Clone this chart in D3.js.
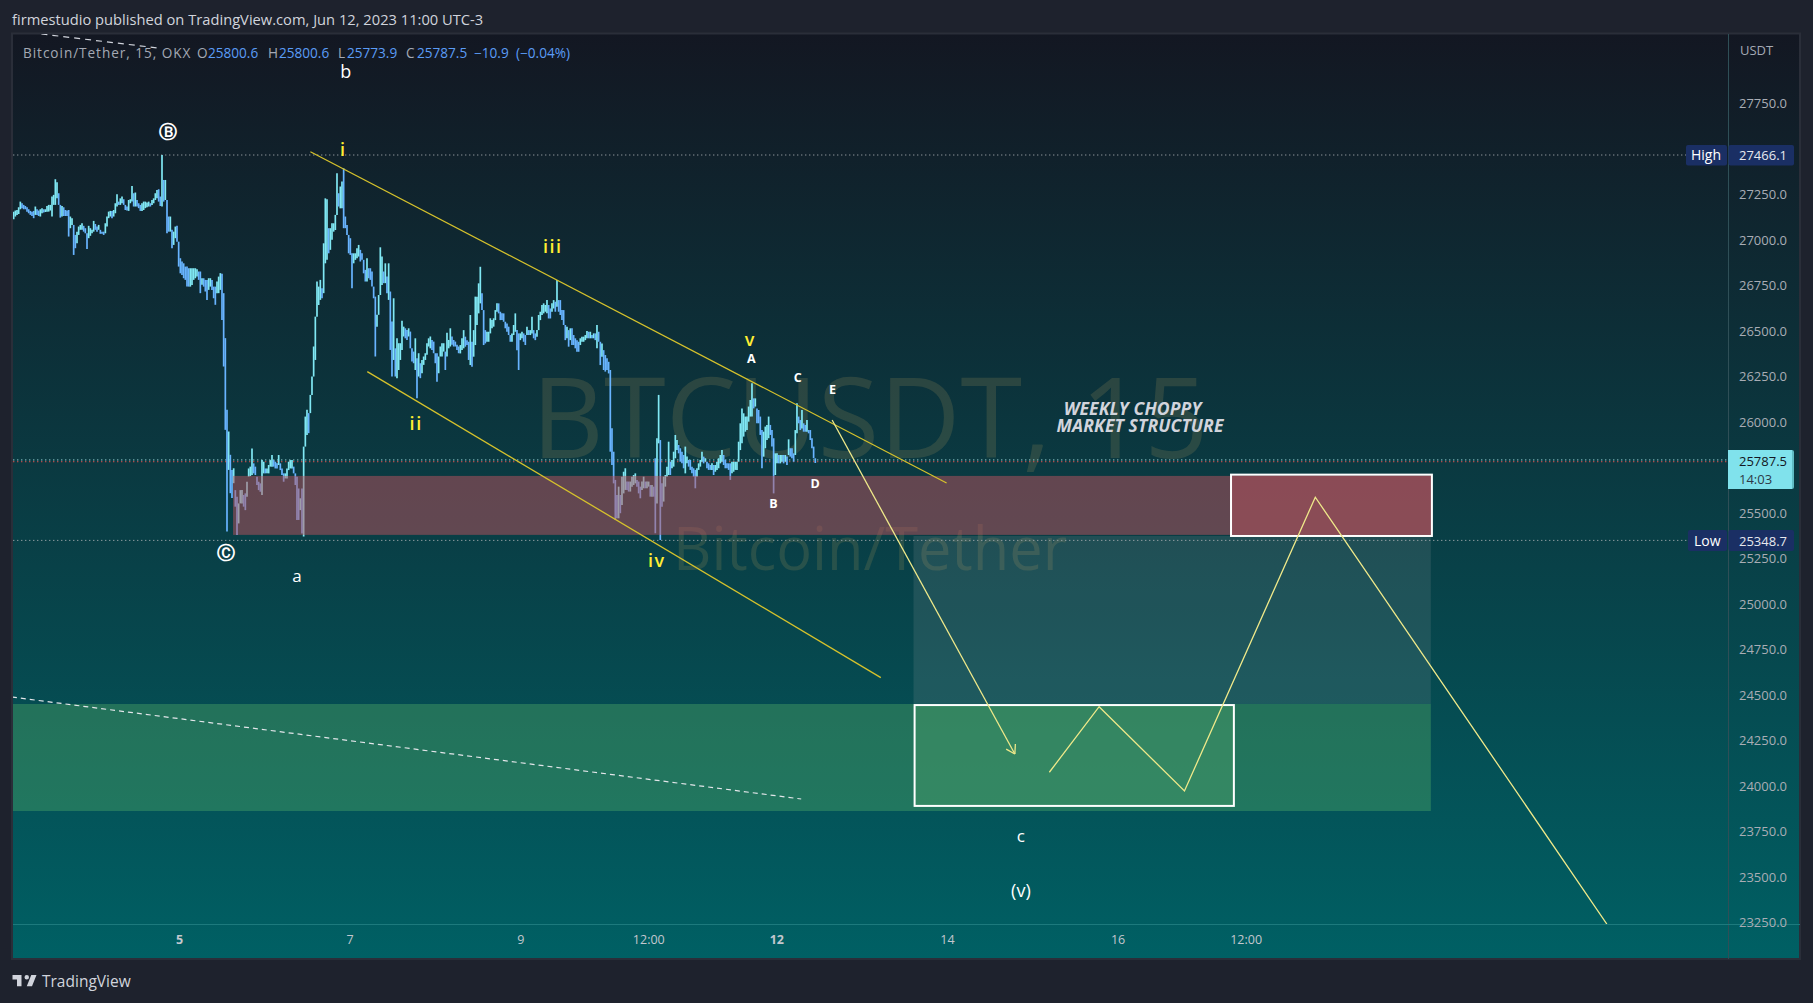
<!DOCTYPE html>
<html><head><meta charset="utf-8">
<script src="https://cdn.jsdelivr.net/npm/d3@7"></script>
<style>html,body{margin:0;padding:0;background:#1e222d;overflow:hidden}svg{display:block}text{font-family:"Open Sans",sans-serif}</style>
</head><body><svg id="c" width="1813" height="1003"></svg>
<script>
// ---- values ----
const headerText="firmestudio published on TradingView.com, Jun 12, 2023 11:00 UTC-3";
const firstBarTime=Date.UTC(2023,5,3,1,30);
const barMinutes=28.125;
// [high, low] of each sampled bar
const barHighLow=[[27155,27113],[27161,27128],[27164,27137],[27179,27142],[27210,27168],[27201,27174],[27192,27168],[27186,27168],[27179,27155],[27168,27146],
[27159,27137],[27155,27131],[27159,27119],[27183,27137],[27168,27137],[27161,27131],[27168,27128],[27174,27146],[27168,27150],[27168,27153],
[27186,27155],[27192,27155],[27192,27161],[27238,27128],[27247,27192],[27333,27192],[27316,27228],[27256,27192],[27192,27122],[27186,27128],
[27179,27131],[27164,27131],[27161,27131],[27164,27018],[27128,27064],[27119,27082],[27082,26917],[27027,26954],[27045,26981],[27073,27027],
[27082,27055],[27091,27055],[27077,27045],[27064,27036],[27036,26950],[27077,27009],[27064,27022],[27055,27036],[27104,27045],[27087,27055],
[27073,27045],[27082,27055],[27055,27033],[27045,27033],[27045,27027],[27091,27036],[27128,27073],[27155,27119],[27159,27128],[27159,27119],
[27164,27128],[27201,27146],[27250,27183],[27210,27192],[27228,27192],[27238,27201],[27223,27192],[27192,27164],[27183,27161],[27219,27159],
[27223,27201],[27296,27210],[27256,27183],[27260,27183],[27219,27183],[27201,27174],[27192,27159],[27201,27159],[27210,27164],[27210,27174],
[27205,27179],[27210,27183],[27201,27183],[27219,27192],[27228,27201],[27256,27219],[27274,27228],[27278,27210],[27238,27186],[27466,27183],
[27329,27210],[27329,27219],[27219,27036],[27128,27045],[27128,27045],[27055,26954],[27045,26972],[27073,27009],[27077,26990],[26990,26853],
[26899,26816],[26881,26807],[26871,26789],[26853,26780],[26853,26743],[26844,26743],[26844,26743],[26844,26752],[26844,26780],[26844,26789],
[26839,26798],[26826,26780],[26826,26707],[26789,26753],[26789,26743],[26780,26716],[26780,26670],[26789,26725],[26789,26743],[26780,26725],
[26743,26679],[26743,26643],[26771,26707],[26798,26707],[26817,26725],[26813,26560],[26707,26304],[26460,25956],[26066,25398],[25947,25736],
[25819,25608],[25736,25581],[25745,25663],[25625,25534],[25589,25378],[25552,25442],[25625,25552],[25625,25552],[25598,25534],[25607,25515],
[25671,25589],[25744,25699],[25754,25702],[25854,25708],[25772,25717],[25754,25708],[25699,25653],[25671,25625],[25662,25616],[25790,25598],
[25781,25717],[25744,25717],[25744,25717],[25763,25717],[25790,25754],[25818,25754],[25790,25754],[25781,25744],[25772,25744],[25818,25763],
[25772,25735],[25744,25708],[25717,25671],[25717,25689],[25744,25689],[25781,25735],[25790,25744],[25790,25744],[25754,25717],[25717,25653],
[25699,25461],[25634,25461],[25580,25515],[25634,25387],[25864,25370],[26029,25864],[26066,25928],[26048,25938],[26148,26048],[26249,26148],
[26414,26249],[26578,26340],[26771,26578],[26743,26642],[26780,26670],[26734,26679],[26981,26707],[27228,26871],[27223,26890],[27064,26926],
[27064,26945],[27091,27000],[27091,27045],[27137,27054],[27366,27137],[27256,27183],[27293,27173],[27320,27173],[27393,27064],[27128,27064],
[27082,27027],[27027,26926],[27009,26917],[26926,26734],[26926,26871],[26926,26890],[26954,26899],[26972,26908],[26945,26881],[26926,26890],
[26890,26816],[26835,26771],[26899,26771],[26844,26789],[26844,26780],[26826,26743],[26743,26679],[26688,26359],[26588,26523],[26697,26588],
[26959,26697],[26908,26752],[26826,26762],[26871,26762],[26798,26707],[26871,26670],[26716,26395],[26551,26249],[26679,26340],[26404,26249],
[26459,26240],[26432,26285],[26432,26340],[26555,26395],[26523,26469],[26514,26459],[26505,26450],[26514,26469],[26496,26404],[26404,26331],
[26386,26322],[26459,26285],[26350,26130],[26377,26249],[26322,26240],[26340,26267],[26359,26313],[26377,26340],[26432,26368],[26459,26414],
[26469,26404],[26450,26395],[26441,26377],[26377,26322],[26377,26221],[26359,26267],[26414,26359],[26432,26359],[26432,26386],[26386,26285],
[26490,26359],[26450,26404],[26514,26414],[26469,26423],[26450,26414],[26441,26414],[26423,26395],[26414,26377],[26422,26376],[26459,26395],
[26504,26404],[26468,26413],[26449,26422],[26440,26340],[26587,26312],[26440,26303],[26504,26358],[26688,26422],[26688,26532],[26761,26596],
[26852,26651],[26706,26614],[26614,26422],[26504,26431],[26495,26440],[26495,26440],[26569,26486],[26559,26514],[26569,26523],[26614,26559],
[26651,26605],[26651,26596],[26605,26559],[26596,26559],[26596,26550],[26550,26514],[26541,26495],[26523,26477],[26477,26440],[26486,26440],
[26532,26477],[26596,26495],[26504,26394],[26486,26285],[26486,26449],[26495,26459],[26486,26440],[26477,26422],[26523,26477],[26504,26477],
[26504,26477],[26578,26486],[26504,26459],[26486,26449],[26504,26468],[26587,26504],[26605,26559],[26642,26587],[26651,26596],[26642,26605],
[26669,26596],[26642,26568],[26623,26568],[26651,26605],[26669,26623],[26660,26605],[26779,26633],[26669,26605],[26669,26587],[26614,26559],
[26614,26532],[26532,26449],[26523,26459],[26504,26413],[26514,26449],[26514,26422],[26477,26422],[26459,26404],[26449,26385],[26440,26385],
[26459,26422],[26468,26440],[26468,26440],[26477,26449],[26499,26459],[26495,26459],[26495,26459],[26477,26459],[26486,26459],[26486,26449],
[26532,26404],[26495,26440],[26440,26312],[26431,26358],[26394,26285],[26367,26276],[26349,26285],[26330,26266],[26285,25836],[25965,25763],
[25836,25662],[25681,25461],[25598,25470],[25644,25470],[25598,25498],[25699,25543],[25726,25607],[25745,25626],[25672,25626],[25672,25617],
[25672,25617],[25699,25644],[25708,25653],[25717,25662],[25681,25644],[25672,25607],[25644,25580],[25672,25626],[25699,25635],[25672,25635],
[25672,25635],[25672,25644],[25653,25589],[25653,25589],[25644,25589],[25800,25388],[25910,25552],[26148,25882],[25900,25351],[25662,25534],
[25699,25562],[25708,25644],[25754,25699],[25891,25708],[25781,25708],[25791,25745],[25836,25754],[25928,25800],[25900,25845],[25873,25827],
[25855,25781],[25836,25772],[25818,25745],[25864,25717],[25809,25772],[25791,25754],[25791,25736],[25754,25717],[25745,25699],[25736,25635],
[25745,25699],[25772,25736],[25791,25754],[25836,25781],[25809,25772],[25800,25781],[25781,25745],[25772,25736],[25763,25736],[25772,25736],
[25763,25708],[25763,25726],[25781,25736],[25800,25745],[25818,25772],[25845,25781],[25818,25763],[25791,25745],[25772,25745],[25772,25736],
[25772,25681],[25781,25717],[25781,25726],[25781,25736],[25781,25736],[25891,25781],[25992,25845],[26074,25882],[26047,25919],[26029,25946],
[26029,25955],[26084,26001],[26120,26029],[26212,26029],[26129,26074],[26129,26084],[26074,25992],[26065,25992],[26029,25928],[25955,25745],
[25946,25809],[25974,25855],[25983,25900],[26029,25910],[25983,25928],[25955,25864],[25910,25607],[25827,25708],[25827,25772],[25818,25772],
[25818,25772],[25818,25781],[25818,25772],[25818,25781],[25809,25763],[25904,25818],[25855,25809],[25855,25800],[25827,25781],[25955,25818],
[26102,25937],[26029,25992],[26010,25955],[26065,25964],[25992,25946],[25983,25946],[26010,25946],[25955,25937],[25955,25900],[25910,25855],
[25864,25800],[25800,25774]];

const priceTicks=[27750,27500,27250,27000,26750,26500,26250,26000,25500,25250,25000,24750,24500,24250,24000,23750,23500,23250];
const timeTicks=[[5,0,"5",true],[7,0,"7",false],[9,0,"9",false],[10,12,"12:00",false],[12,0,"12",true],[14,0,"14",false],[16,0,"16",false],[17,12,"12:00",false]];
const highPrice=27466.1, lowPrice=25348.7, lastPrice=25787.5;
const legendParts=[["Bitcoin/Tether, 15, OKX",23,"#a4a9b4",.95],["O",197,"#a4a9b4",0],["25800.6",208,"#5b9cf6",0],["H",268,"#a4a9b4",0],["25800.6",279,"#5b9cf6",0],["L",338,"#a4a9b4",0],["25773.9",347,"#5b9cf6",0],["C",406,"#a4a9b4",0],["25787.5",417,"#5b9cf6",0],["\u221210.9",474,"#5b9cf6",0],["(\u22120.04%)",516,"#5b9cf6",0]];

// Drawings: hours from Jun 5 00:00, price
const topChannel=[[36.96,27484],[215.9,25664]];
const lowChannel=[[52.96,26276],[197.4,24595]];
const dropArrow=[[183.7,26010],[235.1,24175]];
const zigzag=[[244.8,24075],[258.8,24435],[282.8,23972],[319.6,25586],[401.6,23241]];
const dashTop=[[-38.7,28131],[-5.9,28054]];
const dashLow=[[-47,24488],[175,23928]];
// zones: h0,h1,priceTop,priceBottom
const pinkZone=[15.2,352.4,25703,25379];
const redBox=[295.9,352.4,25710,25373];
const blueZone=[206.6,352.1,25373,24450];
const greenZone=[-47,352.1,24450,23862];
const greenBox=[206.9,296.7,24444,23890];
const yellowLabels=[["i",46.2,27499],["iii",105.1,26966],["ii",66.7,25994],["iv",134.4,25243],["v",160.7,26456]];
const whiteLetters=[["A",161,26348],["C",174,26241],["E",183.8,26177],["B",167.2,25554],["D",178.9,25663]];
const whiteWaves=[["b",46.9,27930,18],["\u24b7",-3.1,27594,18],["\u24b8",13.1,25281,18],["a",33.2,25154,17],["c",236.8,23725,17],["(v)",236.8,23427,18]];
const noteLines=[["WEEKLY CHOPPY",268.2,26076],["MARKET STRUCTURE",270.3,25983]];

// ---- layout ----
const L=13,T=34,R=1728,B=924,OR=1800,OB=959;
const t5=Date.UTC(2023,5,5);
const x=d3.scaleTime().domain([new Date(t5),new Date(Date.UTC(2023,5,12))]).range([179,776.3]);
const y=d3.scaleLinear().domain([highPrice,lowPrice]).range([155,540.4]);
const hx=h=>x(new Date(t5+h*3600e3));
const svg=d3.select("#c");
const defs=svg.append("defs");
const g=defs.append("linearGradient").attr("id","bg").attr("x1",0).attr("x2",0).attr("y1",0).attr("y2",1);
g.append("stop").attr("offset",0).attr("stop-color","#131722");
g.append("stop").attr("offset",1).attr("stop-color","#006064");
defs.append("clipPath").attr("id","pane").append("rect").attr("x",L).attr("y",T).attr("width",R-L).attr("height",B-T);

svg.append("rect").attr("width",1813).attr("height",1003).attr("fill","#1e222d");
svg.append("rect").attr("x",12).attr("y",33.5).attr("width",OR-12).attr("height",OB-33.5).attr("fill","url(#bg)").attr("stroke","#2a2e39").attr("stroke-width",2);

// header & footer
svg.append("text").attr("x",12).attr("y",25).attr("fill","#d1d4dc").attr("font-size",14.7).text(headerText);
svg.append("path").attr("d","M14 6H2v6h6v9h6V6Zm14 15h-7l6-15h7l-6 15Zm-7-9a3 3 0 1 0 0-6 3 3 0 0 0 0 6Z").attr("fill","#d1d4dc").attr("transform","translate(11,970.5) scale(.75)");
svg.append("text").attr("x",42).attr("y",987).attr("fill","#d1d4dc").attr("font-size",15.5).text("TradingView");

// watermark
svg.append("text").attr("x",870).attr("y",458).attr("text-anchor","middle").attr("font-size",112).attr("fill","rgba(170,150,90,.2)").text("BTCUSDT, 15");
svg.append("text").attr("x",870).attr("y",570).attr("text-anchor","middle").attr("font-size",59.5).attr("fill","rgba(170,150,90,.2)").text("Bitcoin/Tether");

// axes
svg.append("line").attr("x1",R+.5).attr("x2",R+.5).attr("y1",T).attr("y2",OB).attr("stroke","#2f4f57");
svg.append("line").attr("x1",L).attr("x2",OR).attr("y1",B+.5).attr("y2",B+.5).attr("stroke","#1d7a7d");
const ya=svg.append("g").attr("transform",`translate(${R},0)`)
 .call(d3.axisRight(y).tickValues(priceTicks).tickSize(0).tickPadding(11).tickFormat(d3.format(".1f")));
ya.select(".domain").remove();
ya.selectAll("text").attr("font-family",'"Open Sans",sans-serif').attr("font-size",13).attr("fill","#a9adb5");
const xa=svg.append("g").attr("transform",`translate(0,${B})`)
 .call(d3.axisBottom(x).tickValues(timeTicks.map(d=>new Date(Date.UTC(2023,5,d[0],d[1])))).tickSize(0).tickPadding(11)
 .tickFormat((d,i)=>timeTicks[i][2]));
xa.select(".domain").remove();
xa.selectAll("text").attr("font-family",'"Open Sans",sans-serif').attr("font-size",12.5).attr("fill","#c3c7ce").attr("font-weight",(d,i)=>timeTicks[i][3]?700:400);
svg.append("text").attr("x",1740).attr("y",55).attr("fill","#a4a9b4").attr("font-size",13).text("USDT");

const pane=svg.append("g").attr("clip-path","url(#pane)");
const hline=(p,c,dy=0,x2=R,o=1)=>pane.append("line").attr("x1",L).attr("x2",x2).attr("y1",y(p)+dy).attr("y2",y(p)+dy).attr("stroke",c).attr("stroke-opacity",o).attr("stroke-dasharray","1.4 2.6");
hline(highPrice,"#8b9298",0,1686);
hline(lowPrice,"#8b9a9e",0,1688);
hline(lastPrice,"#ef5350",1.2,R,.9);
hline(lastPrice,"#a8e6ea",-.6,R,.85);

// bars
const step=barMinutes*60000;
pane.append("g").selectAll("line").data(barHighLow).join("line")
 .attr("x1",(d,i)=>x(new Date(firstBarTime+i*step)))
 .attr("x2",(d,i)=>x(new Date(firstBarTime+i*step)))
 .attr("y1",d=>y(d[0])).attr("y2",d=>y(d[1]))
 .attr("stroke-width",1.7)
 .attr("stroke",(d,i)=>{const p=i?barHighLow[i-1]:d;return d[0]+d[1]>=p[0]+p[1]?"#80e8f4":"#68b4ff";});

// zones
const zone=(z,fill)=>pane.append("rect").attr("x",hx(z[0])).attr("width",hx(z[1])-hx(z[0])).attr("y",y(z[2])).attr("height",y(z[3])-y(z[2])).attr("fill",fill);
zone(blueZone,"rgba(175,175,175,.15)");
zone(greenZone,"rgba(85,175,105,.38)");
zone(pinkZone,"rgba(188,82,94,.5)");
zone(redBox,"rgba(188,82,94,.45)").attr("stroke","#fff").attr("stroke-width",2);
zone(greenBox,"rgba(85,170,110,.35)").attr("stroke","#fff").attr("stroke-width",2);

// lines
const ln=d3.line().x(d=>hx(d[0])).y(d=>y(d[1]));
const path=(d,c,w=1.3,dash=null)=>pane.append("path").attr("d",ln(d)).attr("fill","none").attr("stroke",c).attr("stroke-width",w).attr("stroke-dasharray",dash);
path(topChannel,"#d6c22c");
path(lowChannel,"#d6c22c");
path(dropArrow,"#efe98a");
path(zigzag,"#efe98a");
path(dashTop,"#d1d4dc",1.2,"6 5");
path(dashLow,"#e3e6ea",1.2,"5 4");
{const a=[hx(dropArrow[0][0]),y(dropArrow[0][1])],b=[hx(dropArrow[1][0]),y(dropArrow[1][1])];
 const ang=Math.atan2(b[1]-a[1],b[0]-a[0]);
 [-.55,.55].forEach(s=>pane.append("line").attr("x1",b[0]).attr("y1",b[1]).attr("x2",b[0]-10*Math.cos(ang+s)).attr("y2",b[1]-10*Math.sin(ang+s)).attr("stroke","#efe98a").attr("stroke-width",1.3));}

// labels
const lab=(s,h,p,c,fs,fw=400)=>svg.append("text").attr("x",hx(h)).attr("y",y(p)).attr("text-anchor","middle").attr("dominant-baseline","central").attr("fill",c).attr("font-size",fs).attr("font-weight",fw).text(s);
yellowLabels.forEach(d=>lab(d[0],d[1],d[2],"#ffee33",18,600).attr("letter-spacing",1.5));
whiteLetters.forEach(d=>lab(d[0],d[1],d[2],"#ffffff",12.5,700));
whiteWaves.forEach(d=>{const circ=d[0]>"z";lab(d[0],d[1],d[2],"#ffffff",d[3],circ?700:400).style("font-family",circ?'"DejaVu Sans"':null);});
noteLines.forEach(d=>lab(d[0],d[1],d[2],"#d1d4dc",17.6,700).attr("font-style","italic").attr("letter-spacing",.1));

// legend
legendParts.forEach(d=>svg.append("text").attr("x",d[1]).attr("y",58).attr("fill",d[2]).attr("font-size",13.6).attr("letter-spacing",d[3]).text(d[0]));

// price labels
const box=(x0,x1,y0,y1,f)=>svg.append("rect").attr("x",x0).attr("y",y0).attr("width",x1-x0).attr("height",y1-y0).attr("fill",f).attr("rx",2);
const txt=(s,px,py,c,fs=13)=>svg.append("text").attr("x",px).attr("y",py).attr("fill",c).attr("font-size",fs).text(s);
box(1686,1727,145,165.5,"#1a2f64");box(1728.5,1794,145,165.5,"#1a2f64");
txt("High",1691,160,"#fff",14);txt(d3.format(".1f")(highPrice),1739,160,"#e6e8ee");
box(1688,1727,530,551,"#1a2f64");box(1728.5,1794,530,551,"#1a2f64");
txt("Low",1694,545.5,"#fff",14);txt(d3.format(".1f")(lowPrice),1739,545.5,"#e6e8ee");
box(1728,1794,450,489,"#5fbcc4");box(1728,1792,450,489,"#80e2ec").attr("rx",0);
txt(d3.format(".1f")(lastPrice),1739,466,"#131722");txt("14:03",1739,484,"#2e3a48");
</script></body></html>
